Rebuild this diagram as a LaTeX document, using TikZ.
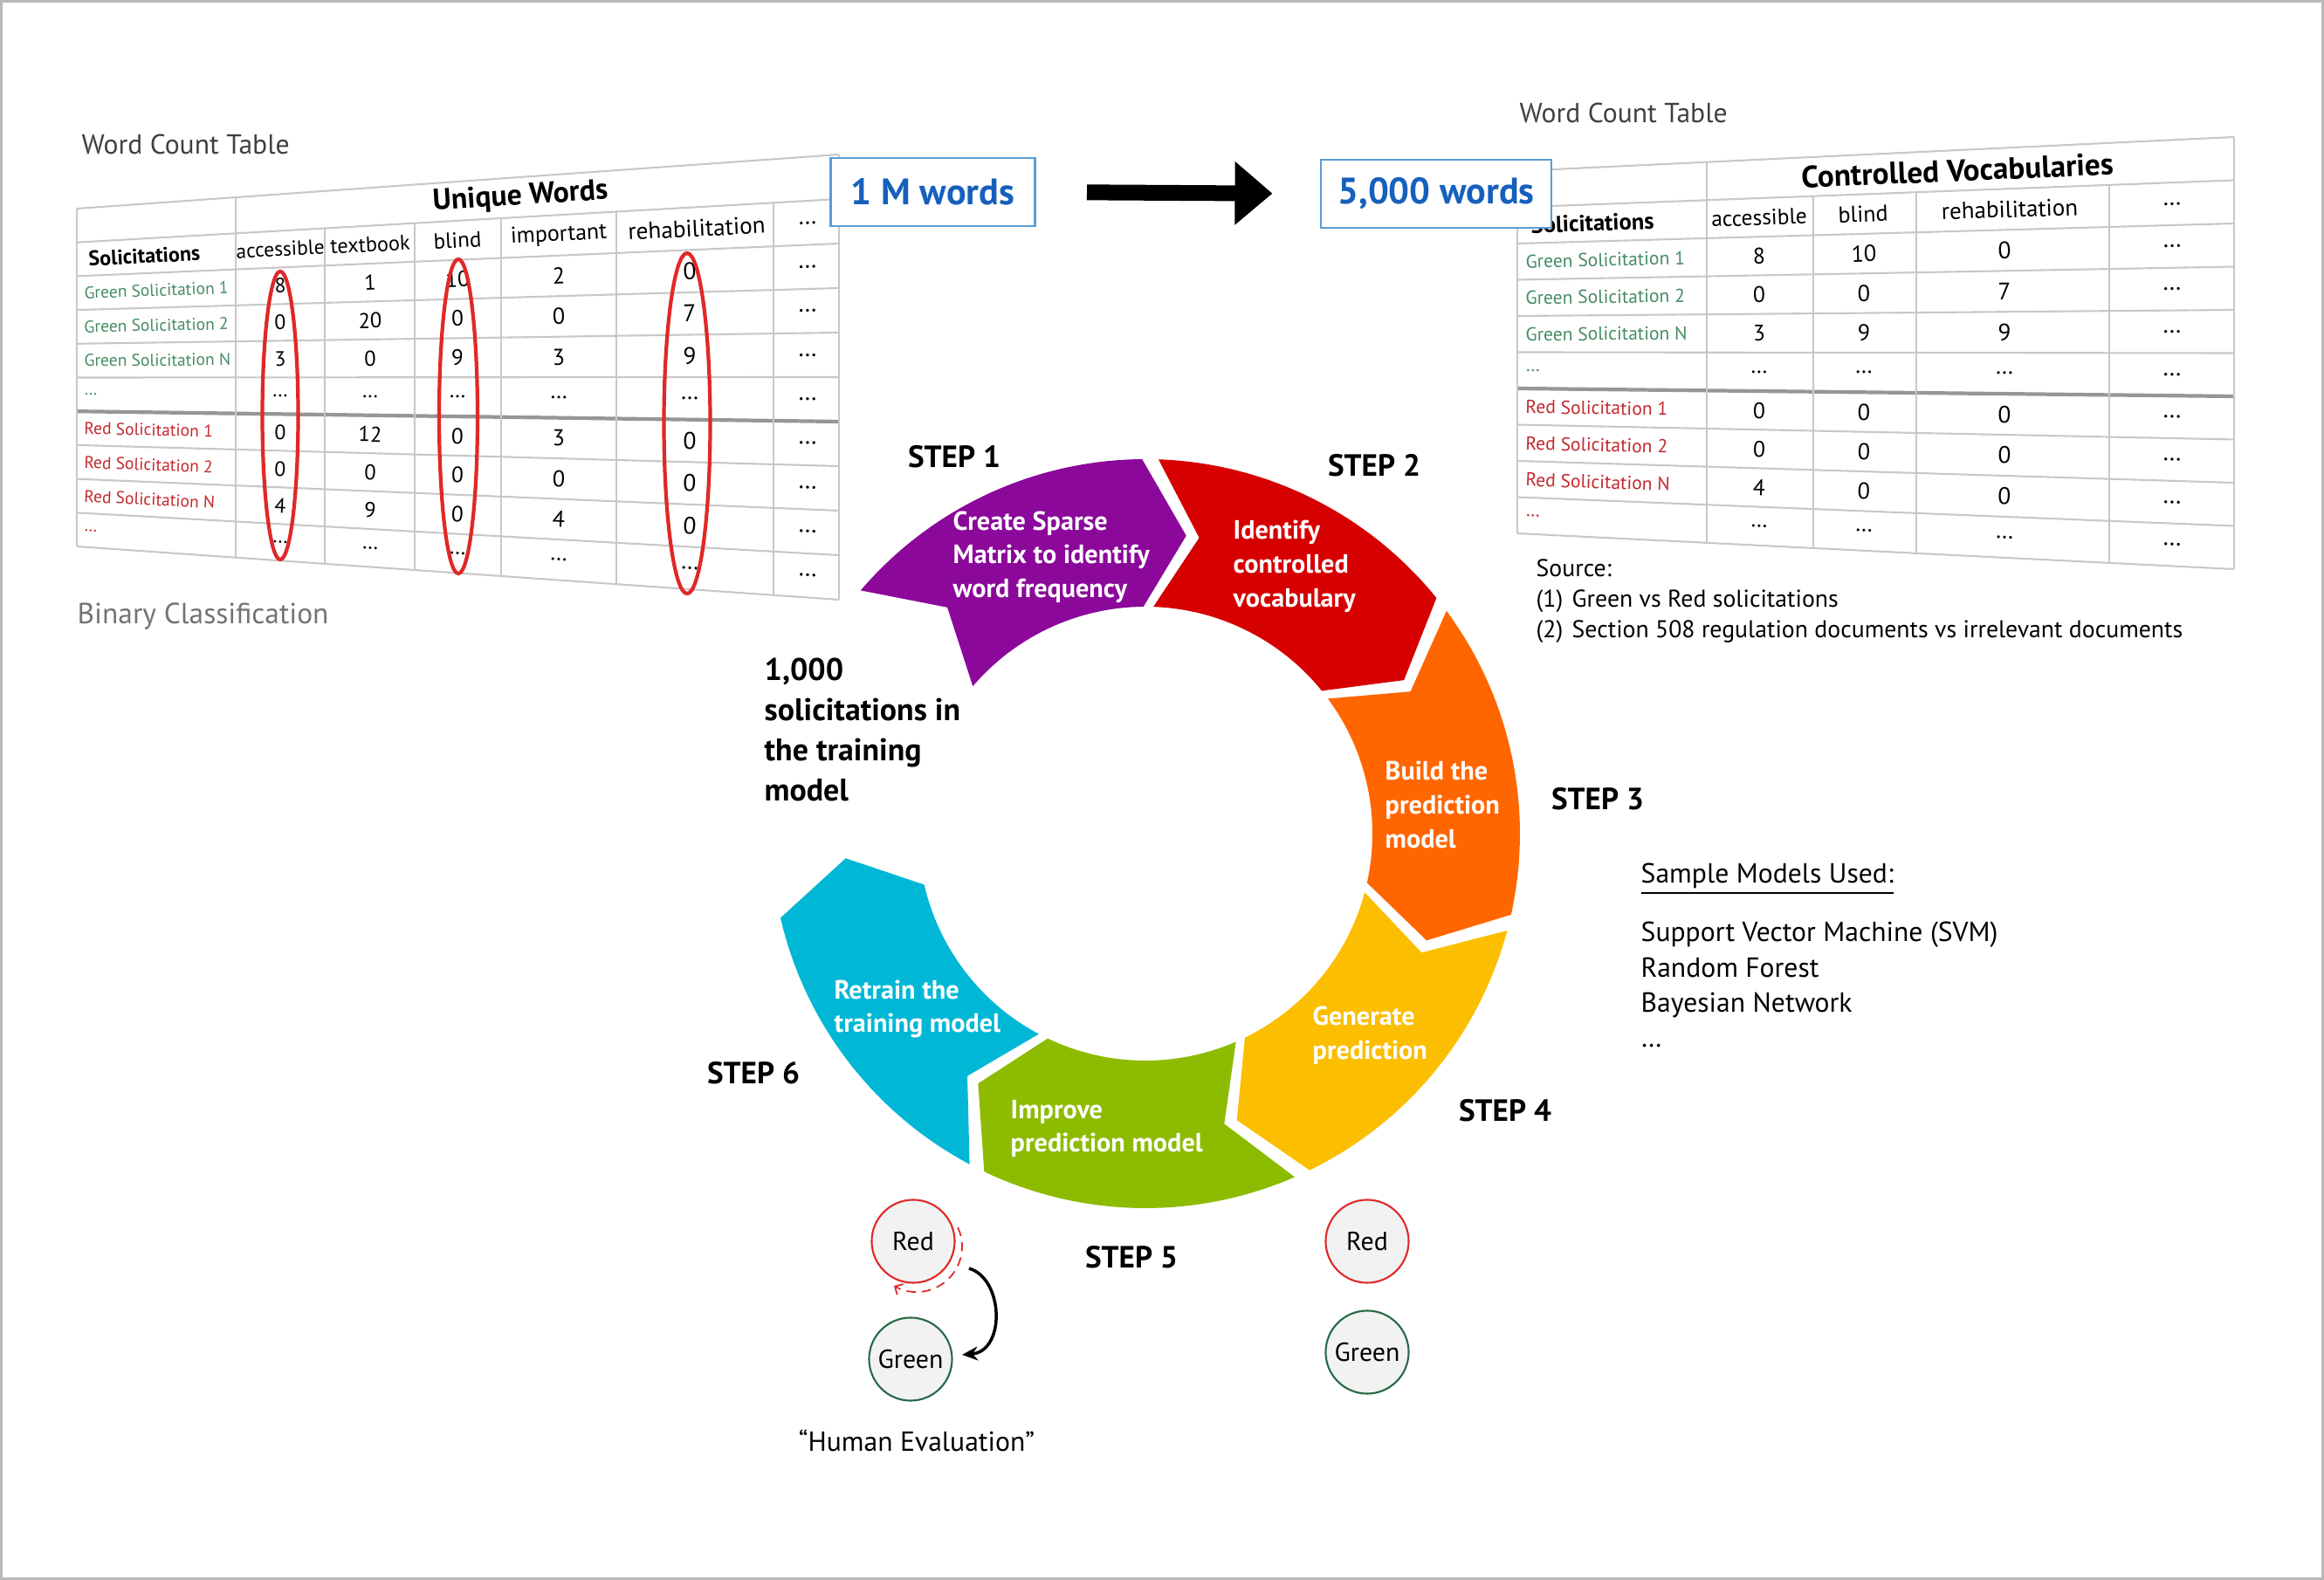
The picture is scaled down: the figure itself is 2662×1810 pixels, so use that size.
\documentclass[tikz,border=0pt]{standalone}
\usepackage{fontspec}
\setmainfont{PT Sans}
\usetikzlibrary{arrows.meta,calc}

\definecolor{segpurple}{RGB}{139,8,154}
\definecolor{segred}{RGB}{214,0,0}
\definecolor{segorange}{RGB}{255,102,0}
\definecolor{segyellow}{RGB}{252,190,0}
\definecolor{seggreen}{RGB}{141,187,0}
\definecolor{segcyan}{RGB}{0,184,214}
\definecolor{wordblue}{RGB}{21,96,189}
\definecolor{boxblue}{RGB}{91,155,213}
\definecolor{labgreen}{RGB}{70,140,100}
\definecolor{labred}{RGB}{195,40,45}
\definecolor{gridgray}{RGB}{200,200,200}
\definecolor{midgray}{RGB}{150,150,150}
\definecolor{ringred}{RGB}{225,40,40}
\definecolor{ringgreen}{RGB}{40,105,70}

% table geometry: left x, right x, top y left/right, row height left/right
\newcommand\tabgeom[6]{\def\tXa{#1}\def\tXb{#2}\def\tTa{#3}\def\tTb{#4}\def\tHa{#5}\def\tHb{#6}}
\newcommand\tliney[2]{%
  \pgfmathsetmacro\tcF{(#1-\tXa)/(\tXb-\tXa)}%
  \pgfmathsetmacro\tcY{\tTa+#2*\tHa+\tcF*(\tTb+#2*\tHb-\tTa-#2*\tHa)}}
\newcommand\tcell[5]{%
  \tliney{#2}{#3}%
  \pgfmathsetmacro\tcR{-atan((\tTb+#3*\tHb-\tTa-#3*\tHa)/(\tXb-\tXa))}%
  \pgfmathsetmacro\tcS{(\tHa+\tcF*(\tHb-\tHa))/\tHb}%
  \node[#4, rotate=\tcR, scale=\tcS] (#1) at (#2,\tcY) {#5};}

\begin{document}
\begin{tikzpicture}[x=0.01cm, y=-0.01cm,
    tline/.style={gridgray, line width=0.6pt},
    tmid/.style={midgray, line width=1.2pt},
    ttitle/.style={inner sep=0, font=\bfseries\fontsize{10.7}{12}\selectfont},
    thead/.style={inner sep=0, font=\fontsize{8.1}{10}\selectfont},
    tsol/.style={inner sep=0, anchor=west, font=\bfseries\fontsize{9}{10}\selectfont},
    tlab/.style={inner sep=0, anchor=west, font=\fontsize{7.3}{9}\selectfont},
    tnum/.style={inner sep=0, font=\fontsize{8.2}{10}\selectfont},
    redring/.style={ringred, line width=1.2pt},
    wordbox/.style={draw=boxblue, line width=0.8pt, fill=white, text=wordblue,
      font=\bfseries\fontsize{12}{14}\selectfont, minimum height=0.78cm},
    bigarrow/.style={line width=0.18cm, -{Triangle[length=0.43cm, width=0.7cm]},
      shorten <=0.58cm, shorten >=0.54cm},
    segtext/.style={text=white, font=\bfseries\fontsize{8.6}{11}\selectfont,
      align=left, anchor=west, inner sep=0},
    steplabel/.style={font=\bfseries\fontsize{10}{12}\selectfont, inner sep=0},
    plain/.style={font=\fontsize{9}{11}\selectfont, inner sep=0, anchor=west},
    classbox/.style={circle, minimum size=0.95cm, inner sep=0, fill=black!5,
      line width=0.6pt, font=\fontsize{8.5}{10}\selectfont}]
\useasboundingbox (0,0) rectangle (2662,1810);
\draw[black!28, line width=0.9pt] (1.5,1.5) rectangle (2660.5,1808.5);

% left word count table
\node[plain, text=black!75] (ltitle) at (93,165) {Word Count Table};
\node[plain, text=black!55, font=\fontsize{9.5}{11}\selectfont] (binary) at (88,706) {Binary Classification};
\tabgeom{88}{961}{239}{177}{38.7}{51}
\foreach \k in {0,...,10}
  \draw[tline] ({\tXa},{\tTa+\k*\tHa}) -- ({\tXb},{\tTb+\k*\tHb});
\draw[tmid] ({\tXa},{\tTa+6*\tHa}) -- ({\tXb},{\tTb+6*\tHb});
\foreach \x/\k in {88/0,270/0,372/1,475/1,574/1,706/1,886/1,961/0} {
  \tliney{\x}{\k}\let\tlA\tcY \tliney{\x}{10}
  \draw[tline] (\x,\tlA) -- (\x,\tcY);
}
\tcell{lunique}{596}{0.5}{ttitle}{Unique Words}
\tcell{lsol}{101}{1.5}{tsol}{Solicitations}
\foreach \x/\w [count=\c] in {321/accessible,424/textbook,524/blind,640/important,798/rehabilitation,925/…} {
  \tcell{lh\c}{\x}{1.5}{thead}{\w}
}
\foreach \r/\w/\col in {2.5/Green Solicitation 1/labgreen,3.5/Green Solicitation 2/labgreen,
    4.5/Green Solicitation N/labgreen,5.5/…/labgreen,6.5/Red Solicitation 1/labred,
    7.5/Red Solicitation 2/labred,8.5/Red Solicitation N/labred,9.5/…/labred} {
  \tcell{ll\r}{96}{\r}{tlab, text=\col}{\w}
}
\def\colsL{{321,424,524,640,790,925}}
\foreach \r/\vals in {2.5/{8,1,10,2,0,…},3.5/{0,20,0,0,7,…},4.5/{3,0,9,3,9,…},
    5.5/{…,…,…,…,…,…},6.5/{0,12,0,3,0,…},7.5/{0,0,0,0,0,…},
    8.5/{4,9,0,4,0,…},9.5/{…,…,…,…,…,…}} {
  \foreach \v [count=\c] in \vals {
    \pgfmathsetmacro\cx{\colsL[\c-1]}
    \tcell{ld\r-\c}{\cx}{\r}{tnum}{\v}
  }
}
\draw[redring] (321,476) ellipse [x radius=20.5, y radius=165];
\draw[redring] (525,477) ellipse [x radius=22, y radius=180];
\draw[redring] (787,485) ellipse [x radius=26.5, y radius=195];

% right word count table
\node[plain, text=black!75] (rtitle) at (1740,129) {Word Count Table};
\tabgeom{1738}{2559}{196}{157}{41.5}{49.5}
\foreach \k in {0,...,10}
  \draw[tline] ({\tXa},{\tTa+\k*\tHa}) -- ({\tXb},{\tTb+\k*\tHb});
\draw[tmid] ({\tXa},{\tTa+6*\tHa}) -- ({\tXb},{\tTb+6*\tHb});
\foreach \x/\k in {1738/0,1955/0,2077/1,2195/1,2416/1,2559/0} {
  \tliney{\x}{\k}\let\tlA\tcY \tliney{\x}{10}
  \draw[tline] (\x,\tlA) -- (\x,\tcY);
}
\tcell{rvocab}{2242}{0.5}{ttitle}{Controlled Vocabularies}
\tcell{rsol}{1753}{1.5}{tsol}{Solicitations}
\foreach \x/\w [count=\c] in {2015/accessible,2134/blind,2302/rehabilitation,2488/…} {
  \tcell{rh\c}{\x}{1.5}{thead}{\w}
}
\foreach \r/\w/\col in {2.5/Green Solicitation 1/labgreen,3.5/Green Solicitation 2/labgreen,
    4.5/Green Solicitation N/labgreen,5.5/…/labgreen,6.5/Red Solicitation 1/labred,
    7.5/Red Solicitation 2/labred,8.5/Red Solicitation N/labred,9.5/…/labred} {
  \tcell{rl\r}{1747}{\r}{tlab, text=\col}{\w}
}
\def\colsR{{2015,2135,2296,2488}}
\foreach \r/\vals in {2.5/{8,10,0,…},3.5/{0,0,7,…},4.5/{3,9,9,…},5.5/{…,…,…,…},
    6.5/{0,0,0,…},7.5/{0,0,0,…},8.5/{4,0,0,…},9.5/{…,…,…,…}} {
  \foreach \v [count=\c] in \vals {
    \pgfmathsetmacro\cx{\colsR[\c-1]}
    \tcell{rd\r-\c}{\cx}{\r}{tnum}{\v}
  }
}

% vocabulary reduction
\node[wordbox, minimum width=2.34cm] (onem) at (1068.5,220) {1 M words};
\node[wordbox, minimum width=2.64cm] (fivek) at (1645,222) {5,000 words};
\draw[bigarrow] (onem.east) -- (fivek.west);

\node[plain, font=\fontsize{7.9}{10}\selectfont, align=left] (source) at (1759,689)
  {Source:\\\makebox[0.41cm][l]{(1)}Green vs Red solicitations\\
   \makebox[0.41cm][l]{(2)}Section 508 regulation documents vs irrelevant documents};

% cycle
\begin{scope}[shift={(1312,955)}, yscale=-1]
\foreach \t/\col in {139.5/segpurple,88/segred,36.5/segorange,-15/segyellow,-66.5/seggreen,-118/segcyan} {
  \pgfmathsetmacro\segH{\t-49}
  \pgfmathsetmacro\segP{\segH-8.3}
  \pgfmathsetmacro\segN{\t-8.3}
  \fill[\col] (\t:429) arc[start angle=\t, end angle=\segH, radius=429] -- (\segP:344.5)
    -- (\segH:260) arc[start angle=\segH, end angle=\t, radius=260] -- (\segN:344.5) -- cycle;
}
\end{scope}
\node[segtext] (s1) at (1091,638) {Create Sparse\\Matrix to identify\\word frequency};
\node[segtext] (s2) at (1412,649) {Identify\\controlled\\vocabulary};
\node[segtext] (s3) at (1586,922) {Build the\\prediction\\model};
\node[segtext] (s4) at (1503,1186) {Generate\\prediction};
\node[segtext] (s5) at (1157,1293) {Improve\\prediction model};
\node[segtext] (s6) at (955,1156) {Retrain the\\training model};

\node[steplabel] (st1) at (1093,523) {STEP 1};
\node[steplabel] (st2) at (1574,533) {STEP 2};
\node[steplabel] (st3) at (1830,915) {STEP 3};
\node[steplabel] (st4) at (1724,1272) {STEP 4};
\node[steplabel] (st5) at (1296,1440) {STEP 5};
\node[steplabel] (st6) at (863,1229) {STEP 6};

\node[plain, align=left, font=\bfseries\fontsize{10.2}{13.1}\selectfont] (train) at (875,836)
  {1,000\\solicitations in\\the training\\model};

\node[plain, font=\fontsize{9}{11}\selectfont] (models) at (1879,1007) {\underline{Sample Models Used:}};
\node[plain, align=left, font=\fontsize{9}{11.4}\selectfont] (modlist) at (1879,1128)
  {Support Vector Machine (SVM)\\Random Forest\\Bayesian Network\\…};

% human evaluation
\node[classbox, draw=ringred] (redL) at (1046,1422) {Red};
\node[classbox, draw=ringgreen] (greenL) at (1043,1557) {Green};
\node[classbox, draw=ringred] (redR) at (1566,1422) {Red};
\node[classbox, draw=ringgreen] (greenR) at (1566,1549) {Green};
\draw[ringred, densely dashed, line width=0.5pt, -{Straight Barb[length=0.07cm]}]
  ([shift={(-25:52)}]$(redL.center)+(4,6)$) arc[start angle=-25, end angle=120, radius=52];
\draw[line width=1pt, -{Stealth[length=0.18cm, width=0.16cm]}]
  ($(redL.center)+(64,31)$) .. controls ($(redL.center)+(104,43)$) and ($(greenL.center)+(109,-9)$)
  .. ($(greenL.center)+(59,-5)$);
\node[plain, anchor=center, font=\fontsize{9}{11}\selectfont] (human) at (1050,1650) {“Human Evaluation”};
\end{tikzpicture}
\end{document}
